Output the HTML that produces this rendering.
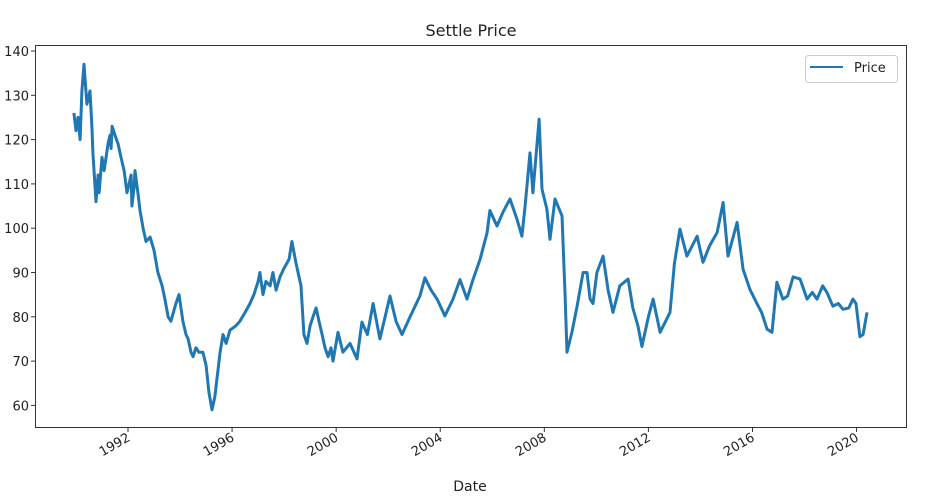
<!DOCTYPE html>
<html><head><meta charset="utf-8"><style>
body{margin:0;background:#fff;}
svg{display:block;font-family:"DejaVu Sans","Liberation Sans",sans-serif;}
</style></head><body>
<svg id="chart" width="931" height="503">
<text x="471" y="36" font-size="16" text-anchor="middle" fill="#222">Settle Price</text>
<g id="plot"></g>
<rect x="35.5" y="45.5" width="871" height="382" fill="none" stroke="#333" stroke-width="1"/>
<text x="470" y="491" font-size="14" text-anchor="middle" fill="#222">Date</text>
<g>
<rect x="805.5" y="55.5" width="92" height="27" rx="3" fill="#fff" stroke="#ccc"/>
<line x1="810" y1="67" x2="843" y2="67" stroke="#1f77b4" stroke-width="2"/>
<text x="854" y="72" font-size="13" fill="#222">Price</text>
</g>
</svg>
<script>
const dates=[1989.92,1990.0,1990.08,1990.16,1990.23,1990.31,1990.42,1990.54,1990.62,1990.65,1990.77,1990.85,1990.89,1991.0,1991.08,1991.23,1991.31,1991.35,1991.39,1991.5,1991.62,1991.73,1991.85,1991.96,1992.12,1992.15,1992.23,1992.27,1992.38,1992.46,1992.58,1992.69,1992.85,1993.0,1993.15,1993.31,1993.42,1993.54,1993.65,1993.84,1993.96,1994.11,1994.23,1994.31,1994.42,1994.5,1994.61,1994.73,1994.88,1995.0,1995.11,1995.23,1995.34,1995.38,1995.54,1995.65,1995.77,1995.92,1996.15,1996.3,1996.5,1996.69,1996.84,1997.0,1997.07,1997.19,1997.3,1997.46,1997.57,1997.69,1997.84,1998.0,1998.19,1998.3,1998.46,1998.65,1998.76,1998.88,1999.0,1999.11,1999.23,1999.34,1999.46,1999.57,1999.69,1999.8,1999.88,2000.07,2000.26,2000.53,2000.8,2000.99,2001.2,2001.42,2001.68,2002.07,2002.3,2002.53,2002.84,2003.22,2003.41,2003.65,2003.88,2004.18,2004.49,2004.76,2005.03,2005.26,2005.53,2005.8,2005.91,2006.18,2006.41,2006.68,2006.95,2007.14,2007.26,2007.45,2007.56,2007.8,2007.91,2008.1,2008.22,2008.41,2008.68,2008.79,2008.87,2009.06,2009.26,2009.49,2009.64,2009.76,2009.87,2010.02,2010.26,2010.45,2010.64,2010.9,2011.22,2011.4,2011.6,2011.75,2012.0,2012.18,2012.45,2012.83,2013.0,2013.21,2013.48,2013.87,2014.1,2014.35,2014.64,2014.87,2015.06,2015.41,2015.64,2015.9,2016.17,2016.35,2016.56,2016.75,2016.94,2017.17,2017.35,2017.56,2017.83,2018.1,2018.3,2018.48,2018.7,2018.86,2019.09,2019.3,2019.48,2019.7,2019.86,2019.98,2020.13,2020.25,2020.4];
const prices=[126,122,125,120,131,137,128,131,122,117,106,112,108,116,113,119,121,118,123,121,119,116,113,108,112,105,109,113,108,104,100,97,98,95,90,87,84,80,79,83,85,79,76,75,72,71,73,72,72,69,63,59,62,64,72,76,74,77,78,79,81,83,85,88,90,85,88,87,90,86,89,91,93,97,92,87,76,74,78,80,82,79,76,73,71,73,70,76.5,72,74,70.5,78.8,76,83,75,84.7,79,76,80,84.7,88.8,86,84,80.2,84,88.4,84,88.4,93,99,104,100.5,103.6,106.6,102,98.2,105,117,108,124.6,108.8,104.3,97.5,106.6,102.8,86,72,76.5,82.4,90,90,84,83,90,93.7,86,81,87,88.5,82,77.9,73.3,80,84,76.5,81,92,99.8,93.7,98.2,92.3,96,99,105.8,93.7,101.3,90.7,86.2,83,81,77.2,76.5,87.8,84,84.7,89,88.5,84,85.5,84,87,85.5,82.4,83,81.7,82,84,83,75.5,76,81];
const yTicks=[60,70,80,90,100,110,120,130,140];
const xTicks=[1992,1996,2000,2004,2008,2012,2016,2020];
const NS="http://www.w3.org/2000/svg";
const X=d=>128+(d-1992)*26.02;
const Y=v=>51+(140-v)*4.43;
const g=document.getElementById('plot');
function mk(t,a){const e=document.createElementNS(NS,t);for(const k in a)e.setAttribute(k,a[k]);g.appendChild(e);return e;}
yTicks.forEach(v=>{
  const l=mk('line',{x1:31,x2:35.5,y1:Y(v),y2:Y(v),stroke:'#333'});
  
  
  const t=mk('text',{x:29,y:Y(v)+5,'font-size':13,'text-anchor':'end',fill:'#222'});
  t.textContent=v;
  
  
});
xTicks.forEach(v=>{
  const x=X(v);
  const l=mk('line',{x1:x,x2:x,y1:427.5,y2:432,stroke:'#333'});
  
  
  const t=mk('text',{x:x+3,y:440,'font-size':13,'text-anchor':'end',fill:'#222',transform:`rotate(-30 ${x+3} 440)`});
  t.textContent=v;
  
  
});
let d='';
dates.forEach((dt,i)=>{d+=(i?'L':'M')+X(dt).toFixed(1)+' '+Y(prices[i]).toFixed(1);});
const p=mk('path',{d:d,fill:'none',stroke:'#1f77b4','stroke-width':3,'stroke-linejoin':'round'});


</script>
</body></html>
